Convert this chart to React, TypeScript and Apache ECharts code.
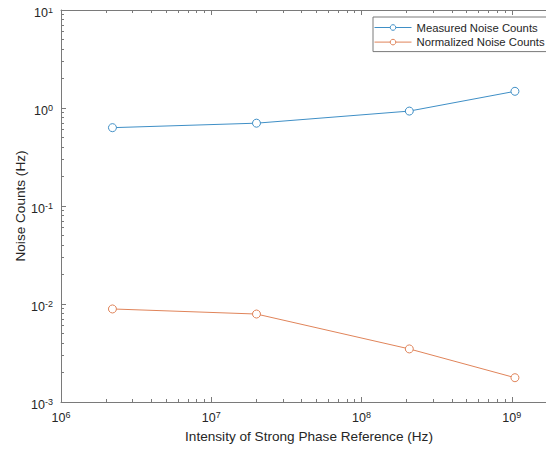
import React, { useEffect, useRef } from "react";
import * as echarts from "echarts";

const seriesNames = ["Measured Noise Counts", "Normalized Noise Counts"];
const intensity = [2.2e6, 2.0e7, 2.08e8, 1.05e9];
const measured = [0.63, 0.7, 0.93, 1.48];
const normalized = [0.0089, 0.0079, 0.00348, 0.00177];
const xDecades = [6, 7, 8, 9];
const yDecades = [-3, -2, -1, 0, 1];
const xMin = 1e6;
const xMax = 2e9;
const yMin = 1e-3;
const yMax = 10;

const FONT = "'Liberation Sans', Arial, Helvetica, sans-serif";
const AX = "#7a7a7a";
const TXT = "#262626";
const BLUE = "#3f8fc6";
const ORANGE = "#e0845a";

function minorLogs(lo: number, hi: number): number[] {
  const out: number[] = [];
  for (let d = Math.floor(lo); d < hi; d++) {
    for (let k = 2; k <= 9; k++) {
      const v = d + Math.log10(k);
      if (v > lo && v < hi) out.push(v);
    }
  }
  return out;
}

const rich = {
  b: { fontSize: 12.5, color: TXT, fontFamily: FONT },
  s: { fontSize: 9, color: TXT, fontFamily: FONT, padding: [0, 0, 6, 0] },
};

export default function App() {
  const ref = useRef<HTMLDivElement>(null);
  useEffect(() => {
    if (!ref.current) return;
    const chart = echarts.init(ref.current, undefined, { renderer: "svg" });
    const lx0 = Math.log10(xMin);
    const lx1 = Math.log10(xMax);
    const ly0 = Math.log10(yMin);
    const ly1 = Math.log10(yMax);
    const labelFmt = (v: number) =>
      Math.abs(v - Math.round(v)) < 1e-6 ? `{b|10}{s|${Math.round(v)}}` : "";
    const tickAxisBase = (pos: string, lo: number, hi: number) => ({
      type: "value",
      position: pos,
      min: lo,
      max: hi,
      splitLine: { show: false },
      axisLine: { show: false, onZero: false },
      axisLabel: { show: false },
      axisTick: { show: false },
    });
    const majorTick = { show: true, inside: true, length: 5, lineStyle: { color: AX, width: 1 } };
    const minorTickCfg = (vals: number[]) => ({
      show: true,
      inside: true,
      length: 3,
      customValues: vals,
      lineStyle: { color: AX, width: 1 },
    });
    const xMinor = minorLogs(lx0, lx1);
    const yMinor = minorLogs(ly0, ly1);

    const mkSeries = (name: string, vals: number[], color: string) => ({
      name,
      type: "line",
      xAxisIndex: 0,
      yAxisIndex: 0,
      data: intensity.map((x, i) => [x, vals[i]]),
      symbol: "circle",
      symbolSize: 8,
      color,
      lineStyle: { width: 1, color },
      itemStyle: { color: "#fff", borderColor: color, borderWidth: 1 },
    });

    chart.setOption({
      animation: false,
      backgroundColor: "#fff",
      grid: { left: 61, top: 10, width: 496, height: 392, containLabel: false, outerBoundsMode: "none" },
      legend: {
        orient: "vertical",
        left: 373,
        top: 17,
        padding: [4, 6, 3, 1],
        itemGap: 1.6,
        itemWidth: 37,
        itemHeight: 7,
        backgroundColor: "#fff",
        borderColor: AX,
        borderWidth: 1,
        borderRadius: 0,
        data: seriesNames,
        lineStyle: { width: 1 },
        itemStyle: { borderWidth: 1 },
        textStyle: { fontSize: 11.3, color: TXT, fontFamily: FONT, lineHeight: 13 },
      },
      xAxis: [
        { type: "log", min: xMin, max: xMax, show: false },
        {
          ...tickAxisBase("bottom", lx0, lx1),
          interval: 1,
          axisLine: { show: true, onZero: false, lineStyle: { color: AX, width: 1 } },
          axisTick: majorTick,
          axisLabel: {
            show: true,
            margin: 8,
            showMaxLabel: false,
            formatter: labelFmt,
            rich,
          },
          name: "Intensity of Strong Phase Reference (Hz)",
          nameLocation: "middle",
          nameGap: 27,
          nameMoveOverlap: false,
          nameTextStyle: { fontSize: 13.6, color: TXT, fontFamily: FONT },
        },
        { ...tickAxisBase("bottom", lx0, lx1), axisTick: minorTickCfg(xMinor) },
        {
          ...tickAxisBase("top", lx0, lx1),
          interval: 1,
          axisLine: { show: true, onZero: false, lineStyle: { color: AX, width: 1 } },
          axisTick: { ...majorTick, customValues: xDecades },
        },
        { ...tickAxisBase("top", lx0, lx1), axisTick: minorTickCfg(xMinor) },
      ],
      yAxis: [
        { type: "log", min: yMin, max: yMax, show: false },
        {
          ...tickAxisBase("left", ly0, ly1),
          interval: 1,
          axisLine: { show: true, onZero: false, lineStyle: { color: AX, width: 1 } },
          axisTick: { ...majorTick, customValues: yDecades },
          axisLabel: {
            show: true,
            margin: 8,
            padding: [5, 0, 0, 0],
            formatter: labelFmt,
            rich,
          },
          name: "Noise Counts (Hz)",
          nameLocation: "middle",
          nameGap: 34,
          nameMoveOverlap: false,
          nameTextStyle: { fontSize: 13.6, color: TXT, fontFamily: FONT },
        },
        { ...tickAxisBase("left", ly0, ly1), axisTick: minorTickCfg(yMinor) },
      ],
      series: [
        mkSeries(seriesNames[0], measured, BLUE),
        mkSeries(seriesNames[1], normalized, ORANGE),
      ],
    });
    return () => chart.dispose();
  }, []);
  return <div ref={ref} style={{ width: 554, height: 453, margin: -8 }} />;
}
